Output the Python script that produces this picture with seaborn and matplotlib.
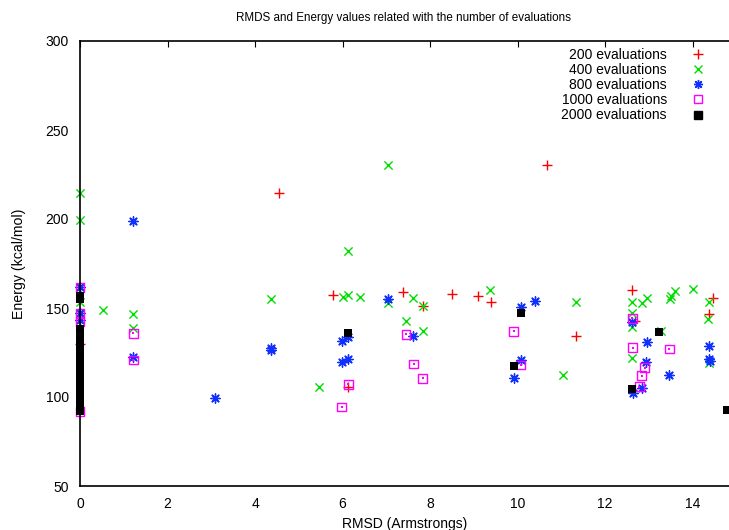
import numpy as np
import matplotlib
matplotlib.use("Agg")
import matplotlib.pyplot as plt
from matplotlib.lines import Line2D
import seaborn as sns

# 200 evaluations
rmsd_200 = [0, 4.55, 10.68, 5.79, 7.39, 7.85, 8.50, 9.10, 9.40, 6.13, 11.34, 12.62, 14.46, 14.38, 12.69]
energy_200 = [130, 214.8, 230.3, 157.1, 159.0, 151.3, 157.9, 156.7, 153.4, 105.6, 134.3, 160.0, 155.6, 146.6, 142.9]

# 400 evaluations
rmsd_400 = [0, 0, 0, 0.53, 1.22, 1.22, 4.37, 5.47, 7.05, 6.13, 6.0, 6.13, 6.41, 7.03, 7.62, 7.85,
            7.45, 7.85, 9.38, 11.34, 11.05, 12.62, 12.85, 12.97, 13.49, 13.51, 13.6, 14.02, 14.38,
            14.36, 12.62, 12.62, 13.29, 12.62, 14.38]
energy_400 = [214.4, 199.4, 153.5, 148.9, 146.5, 138.6, 154.9, 105.6, 230.3, 182.2, 156.4, 157.1,
              156.0, 152.6, 155.6, 151.3, 142.7, 137.1, 160.1, 153.6, 112.2, 153.6, 152.6, 155.4,
              155.1, 156.9, 159.8, 160.7, 153.2, 143.8, 147.0, 139.5, 136.8, 122.1, 119.3]

# 800 evaluations
rmsd_800 = [0, 0, 0, 1.22, 1.22, 3.09, 4.37, 4.37, 7.05, 5.98, 6.13, 5.98, 6.13, 7.62, 10.07, 10.4,
            10.07, 9.91, 12.97, 12.94, 13.47, 12.63, 12.85, 14.38, 14.38, 14.40, 12.62]
energy_800 = [161.6, 147.0, 143.5, 199.1, 122.6, 99.6, 126.2, 127.5, 154.9, 131.5, 133.9, 119.8,
              121.2, 134.3, 150.7, 154.1, 120.8, 110.5, 130.8, 119.5, 112.4, 102.1, 104.9, 128.7,
              121.2, 120.4, 142.4]

# 1000 evaluations
rmsd_1000 = [0, 0, 0, 0, 1.22, 1.22, 7.45, 7.63, 7.83, 6.13, 5.98, 9.91, 10.07, 12.62, 12.63,
             13.47, 12.91, 12.84, 12.78]
energy_1000 = [161.6, 147.0, 142.3, 91.7, 135.8, 120.8, 135.2, 118.5, 110.5, 107.1, 94.4, 136.8,
               118.0, 144.2, 127.7, 127.0, 116.5, 112.0, 105.8]

# 2000 evaluations
rmsd_2000 = [0] * 22 + [6.13, 10.09, 9.91, 13.24, 12.62, 14.78]
energy_2000 = [157, 155, 138, 136, 133, 130, 128, 126, 123, 121, 118, 116, 113, 111, 108, 106,
               103, 101, 98, 96, 93, 92, 135.8, 147.0, 117.2, 136.4, 104.3, 92.7]

labels = ["200 evaluations", "400 evaluations", "800 evaluations",
          "1000 evaluations", "2000 evaluations"]

sns.set_style("white")
plt.rcParams["font.family"] = ["Liberation Sans", "DejaVu Sans"]
plt.rcParams["text.color"] = "black"
plt.rcParams["axes.labelcolor"] = "black"

fig = plt.figure(figsize=(7.29, 5.30), dpi=100)
ax = fig.add_axes([80 / 729, 44 / 530, 649 / 729, 445 / 530])

red, green, blue, magenta = "#ff0000", "#00dd00", "#1030ff", "#ff00ff"
asterisk = (8, 2, 0)

sns.scatterplot(x=rmsd_200, y=energy_200, marker="+", color=red, s=55, linewidth=1,
                clip_on=False, ax=ax)
sns.scatterplot(x=rmsd_400, y=energy_400, marker="x", color=green, s=35, linewidth=1,
                clip_on=False, ax=ax)
sns.scatterplot(x=rmsd_800, y=energy_800, marker=asterisk, color=blue, s=45, linewidth=1,
                clip_on=False, ax=ax)
sns.scatterplot(x=rmsd_1000, y=energy_1000, marker="s", facecolor="none", edgecolor=magenta,
                s=40, linewidth=1, clip_on=False, ax=ax)
sns.scatterplot(x=rmsd_1000, y=energy_1000, marker="s", color=magenta, s=1, linewidth=0,
                clip_on=False, ax=ax)
sns.scatterplot(x=rmsd_2000, y=energy_2000, marker="s", color="black", s=40, linewidth=0,
                clip_on=False, ax=ax)

ax.set_xlim(0, 649 / 43.75)
ax.set_ylim(50, 300)
ax.set_xticks(np.arange(0, 15, 2))
ax.set_yticks(np.arange(50, 301, 50))
ax.tick_params(direction="in", length=4.5, width=0.8, top=True, labelsize=10,
               colors="black", pad=8)
for side in ["left", "bottom", "top"]:
    ax.spines[side].set_color("black")
    ax.spines[side].set_linewidth(1.2)
ax.spines["right"].set_visible(False)

ax.set_xlabel("RMSD (Armstrongs)", fontsize=10, labelpad=4)
ax.set_ylabel("Energy (kcal/mol)", fontsize=10.2, labelpad=14)
fig.text(404 / 729, 1 - 18 / 530, "RMDS and Energy values related with the number of evaluations",
         ha="center", va="center", fontsize=8.4)

handles = [
    Line2D([], [], linestyle="none", marker="+", color=red, markersize=7, markeredgewidth=1),
    Line2D([], [], linestyle="none", marker="x", color=green, markersize=6, markeredgewidth=1),
    Line2D([], [], linestyle="none", marker=asterisk, color=blue, markersize=6.5, markeredgewidth=1),
    Line2D([], [], linestyle="none", marker="s", markerfacecolor="none", markeredgecolor=magenta,
           markersize=6, markeredgewidth=1),
    Line2D([], [], linestyle="none", marker="s", color="black", markersize=6),
]
fig.legend(handles, labels, loc="upper right", bbox_to_anchor=(705 / 729, 1 - 48 / 530),
           frameon=False, markerfirst=False, fontsize=10, handlelength=1.0,
           handletextpad=1.75, labelspacing=0.08, borderpad=0, borderaxespad=0)

fig.savefig("out.png", dpi=100)
